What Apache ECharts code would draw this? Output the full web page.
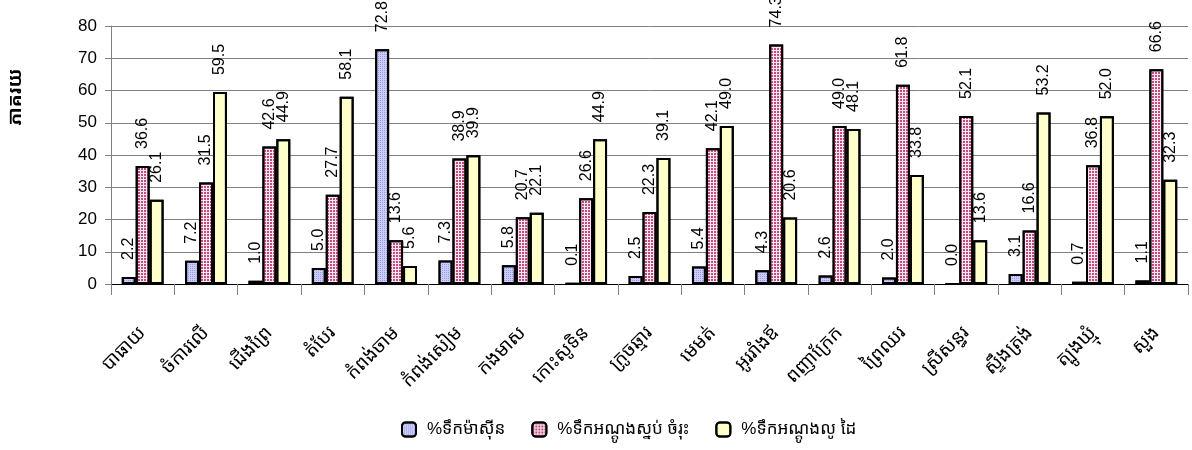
<!DOCTYPE html>
<html>
<head>
<meta charset="utf-8">
<script src="https://cdn.jsdelivr.net/npm/echarts@6/dist/echarts.min.js"></script>
<style>
  html, body { margin: 0; padding: 0; background: #fff; }
  #chart { width: 1192px; height: 450px; }
</style>
</head>
<body>
<div id="chart"></div>
<script>
// districts of Kampong Cham
const districts = [
  "បាធាយ", "ចំការលើ", "ជើងព្រៃ", "តំបែរ", "កំពង់ចាម", "កំពង់សៀម",
  "កងមាស", "កោះសូទិន", "ក្រូចឆ្មារ", "មេមត់", "អូររាំងឪ", "ពញាក្រែក",
  "ព្រៃឈរ", "ស្រីសន្ធរ", "ស្ទឹងត្រង់", "ត្បូងឃ្មុំ", "សួង"
];
const seriesNames = ["%ទឹកម៉ាស៊ីន", "%ទឹកអណ្តូងស្នប់ ចំរុះ", "%ទឹកអណ្តូងលូ ដៃ"];
const tapWater = [2.2, 7.2, 1.0, 5.0, 72.8, 7.3, 5.8, 0.1, 2.5, 5.4, 4.3, 2.6, 2.0, 0.0, 3.1, 0.7, 1.1];
const pumpWell = [36.6, 31.5, 42.6, 27.7, 13.6, 38.9, 20.7, 26.6, 22.3, 42.1, 74.3, 49.0, 61.8, 52.1, 16.6, 36.8, 66.6];
const handWell = [26.1, 59.5, 44.9, 58.1, 5.6, 39.9, 22.1, 44.9, 39.1, 49.0, 20.6, 48.1, 33.8, 13.6, 53.2, 52.0, 32.3];
const yTicks = [0, 10, 20, 30, 40, 50, 60, 70, 80];

const chart = echarts.init(document.getElementById("chart"));

const fontFam = "Arial, 'Liberation Sans', 'Noto Sans Khmer', 'Khmer OS', sans-serif";

const barLabel = {
  show: true,
  position: "top",
  rotate: 90,
  align: "left",
  verticalAlign: "middle",
  distance: 17,
  color: "#000",
  fontSize: 16,
  fontFamily: fontFam,
  formatter: (p) => p.value.toFixed(1)
};

function makeSeries(name, data, color, decal) {
  return {
    name: name,
    type: "bar",
    data: data,
    barGap: "0%",
    barCategoryGap: "34%",
    label: barLabel,
    itemStyle: {
      color: color,
      borderColor: "#000",
      borderWidth: 2,
      decal: decal
    }
  };
}

const options = {
  animation: false,
  aria: { enabled: true, decal: { show: true } },
  grid: { left: 111, right: 4, top: 26, bottom: 166, outerBoundsMode: "none", containLabel: false },
  legend: {
    left: 396,
    top: 416,
    itemWidth: 14,
    itemHeight: 14,
    itemGap: 26,
    textStyle: { fontSize: 17, color: "#000", fontFamily: fontFam, padding: [0, 0, 0, 6] },
    data: seriesNames
  },
  xAxis: {
    type: "category",
    data: districts,
    axisLine: { lineStyle: { color: "#000", width: 1 } },
    axisTick: { show: true, length: 11, lineStyle: { color: "#808080" } },
    axisLabel: {
      interval: 0,
      rotate: 45,
      margin: 46,
      fontSize: 19,
      color: "#000",
      fontFamily: fontFam
    }
  },
  yAxis: {
    type: "value",
    min: 0,
    max: 80,
    interval: 10,
    name: "ភាគរយ",
    nameLocation: "middle",
    nameRotate: 90,
    nameGap: 86,
    nameTextStyle: { fontSize: 19, fontWeight: "bold", color: "#000", fontFamily: fontFam, padding: [0, 0, 0, 116] },
    axisLine: { show: true, lineStyle: { color: "#808080" } },
    axisTick: { show: true, length: 6, lineStyle: { color: "#808080" } },
    axisLabel: {
      fontSize: 17,
      color: "#000",
      margin: 14,
      fontFamily: fontFam,
      formatter: (v) => (yTicks.includes(v) ? String(v) : "")
    },
    splitLine: { lineStyle: { color: "#808080", width: 1 } }
  },
  series: [
    makeSeries(seriesNames[0], tapWater, "#ccccf8", {
      symbol: "rect", symbolSize: 1, color: "#9a9ae6",
      dashArrayX: [1, 1], dashArrayY: [1, 1], rotation: 0
    }),
    makeSeries(seriesNames[1], pumpWell, "#f6eaf0", {
      symbol: "rect", symbolSize: 1, color: "#c44a80",
      dashArrayX: [2, 1], dashArrayY: [2, 1], rotation: 0
    }),
    makeSeries(seriesNames[2], handWell, "#ffffcc", {
      symbol: "none"
    })
  ]
};

chart.setOption(options);
</script>
</body>
</html>
